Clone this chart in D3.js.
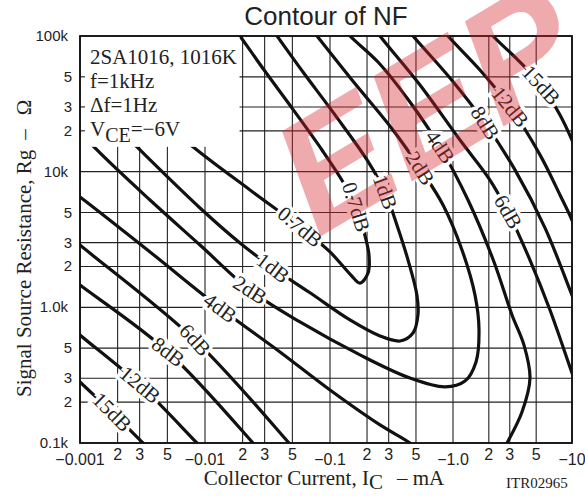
<!DOCTYPE html>
<html>
<head>
<meta charset="utf-8">
<script src="https://cdn.jsdelivr.net/npm/d3@7"></script>
<style>
  body { margin: 0; background: #fff; }
  .serif { font-family: "Liberation Serif", "Times New Roman", serif; }
  .sans { font-family: "Liberation Sans", Arial, sans-serif; }
</style>
</head>
<body>
<div id="wrapper"></div>
<script>
// axis decades and labels
const xDecades = [0.001, 0.01, 0.1, 1, 10]
const xDecadeLabels = ["−0.001", "−0.01", "−0.1", "−1.0", "−10"]
const yDecades = [100, 1000, 10000, 100000]
const yDecadeLabels = ["0.1k", "1.0k", "10k", "100k"]
const minorSteps = [2, 3, 5]

// NF contour arms: [collector current (mA, magnitude), source resistance (ohm)]
const arm07 = [[0.00363, 28500], [0.00863, 14450], [0.0229, 7330], [0.0575, 3910], [0.1, 2560],
  [0.1454, 1760], [0.1754, 1510], [0.2037, 1790], [0.2075, 2430], [0.189, 3590], [0.1627, 5490],
  [0.1276, 8390], [0.0863, 14450], [0.0497, 29400], [0.0297, 56100], [0.01905, 100000], [0.01585, 127000]]
const arm1 = [[0.001445, 28500], [0.00302, 14450], [0.00912, 5400], [0.01905, 2980], [0.035, 1950],
  [0.0692, 1280], [0.1454, 807], [0.255, 615], [0.371, 565], [0.473, 647], [0.519, 879], [0.509, 1230],
  [0.431, 2230], [0.35, 4050], [0.28, 7080], [0.2, 12200], [0.1098, 26200], [0.0608, 54300],
  [0.0377, 100000], [0.0313, 127000]]
const arm2 = [[0.000692, 28500], [0.001368, 14450], [0.00363, 6180], [0.00912, 2880], [0.0229, 1340],
  [0.0575, 780], [0.1754, 446], [0.4467, 301], [0.861, 259], [1.261, 286], [1.561, 396], [1.654, 681],
  [1.531, 1230], [1.19, 2650], [0.83, 5680], [0.539, 10600], [0.325, 20300], [0.151, 47400],
  [0.0787, 100000], [0.0643, 127000]]
const arm4Low = [[0.000832, 7330], [0.001, 6500], [0.00363, 2560], [0.01318, 989], [0.0398, 469],
  [0.1, 246], [0.255, 136], [0.4467, 100], [0.539, 85.9]]
const arm4High = [[2.483, 81.7], [2.844, 100], [3.8, 169], [4.436, 301], [3.951, 527], [3.132, 879],
  [2.211, 2160], [1.337, 6180], [0.784, 15200], [0.4467, 32600], [0.2455, 64300], [0.1454, 100000],
  [0.1161, 127000]]
const arm6Low = [[0.000832, 3360], [0.001, 2880], [0.00832, 574], [0.047, 100], [0.0535, 87.4]]
const arm6High = [[0.2115, 127000], [0.255, 100000], [0.539, 43500], [1.145, 17100], [2.046, 8680],
  [2.897, 5050], [4.436, 2230], [6.53, 955], [10, 328], [11.23, 246]]
const arm8Low = [[0.000832, 1670], [0.001, 1460], [0.00506, 469], [0.0242, 100], [0.0275, 87.4]]
const arm8High = [[0.4072, 119000], [0.473, 100000], [0.9454, 49000], [1.857, 22800], [3.319, 10300],
  [5.93, 3850], [10, 1230], [11.23, 955]]
const arm12Low = [[0.000832, 729], [0.001, 625], [0.00302, 268], [0.00863, 100], [0.01, 87.4]]
const arm12High = [[0.784, 119000], [0.9106, 100000], [1.686, 56100], [3.013, 30000], [5.385, 13300],
  [7.93, 6730], [10, 4400], [11.23, 3410]]
const arm15Low = [[0.000832, 334], [0.001, 282], [0.0018, 169], [0.00319, 100], [0.00363, 88.8]]
const arm15High = [[1.857, 119000], [2.168, 100000], [3.517, 66500], [5.49, 43500], [7.93, 26200],
  [10, 17100], [11.23, 13300]]

const arms = [arm07, arm1, arm2, arm4Low, arm4High, arm6Low, arm6High,
  arm8Low, arm8High, arm12Low, arm12High, arm15Low, arm15High]

// contour labels: text, arm, anchor [mA, ohm]
const curveLabels = [
  ["0.7dB", arm07, 0.0575, 3910], ["1dB", arm1, 0.035, 1950], ["2dB", arm2, 0.0229, 1340],
  ["4dB", arm4Low, 0.0132, 989], ["6dB", arm6Low, 0.00832, 574], ["8dB", arm8Low, 0.00506, 469],
  ["12dB", arm12Low, 0.00302, 268], ["15dB", arm15Low, 0.0018, 169],
  ["0.7dB", arm07, 0.1627, 5490], ["1dB", arm1, 0.28, 7080], ["2dB", arm2, 0.539, 10600],
  ["4dB", arm4High, 0.784, 15200], ["6dB", arm6High, 2.897, 5050], ["8dB", arm8High, 1.857, 22800],
  ["12dB", arm12High, 3.013, 30000], ["15dB", arm15High, 5.49, 43500],
]

const conditionLines = ["2SA1016, 1016K", "f=1kHz", "Δf=1Hz"]

// dimensions
const dimensions = {
  width: 585,
  height: 498,
  margin: { top: 36, right: 13, bottom: 55, left: 80 },
}
dimensions.boundedWidth = dimensions.width - dimensions.margin.left - dimensions.margin.right
dimensions.boundedHeight = dimensions.height - dimensions.margin.top - dimensions.margin.bottom

// scales (decades in the scan are not quite even, so a piecewise log scale)
const xScale = d3.scaleLog()
  .domain(xDecades)
  .range([0, 125, 250, 373, dimensions.boundedWidth])
const yScale = d3.scaleLog()
  .domain([100, 100000])
  .range([dimensions.boundedHeight, 0])

const wrapper = d3.select("#wrapper")
  .append("svg")
    .attr("width", dimensions.width)
    .attr("height", dimensions.height)
    .style("background", "#fff")

const bounds = wrapper.append("g")
  .attr("transform", `translate(${dimensions.margin.left},${dimensions.margin.top})`)

wrapper.append("defs").append("clipPath")
    .attr("id", "plot-clip")
  .append("rect")
    .attr("width", dimensions.boundedWidth)
    .attr("height", dimensions.boundedHeight)

// grid
const xGrid = xDecades.flatMap((d, i) => i < xDecades.length - 1 ? [d, ...minorSteps.map(m => d * m)] : [d])
const yGrid = yDecades.flatMap((d, i) => i < yDecades.length - 1 ? [d, ...minorSteps.map(m => d * m)] : [d])

bounds.append("g").selectAll("line").data(xGrid).join("line")
    .attr("x1", d => xScale(d)).attr("x2", d => xScale(d))
    .attr("y1", 0).attr("y2", dimensions.boundedHeight)
    .attr("stroke", "#222").attr("stroke-width", 1.1)
bounds.append("g").selectAll("line").data(yGrid).join("line")
    .attr("y1", d => yScale(d)).attr("y2", d => yScale(d))
    .attr("x1", 0).attr("x2", dimensions.boundedWidth)
    .attr("stroke", "#222").attr("stroke-width", 1.1)

// contours
const lineGenerator = d3.line()
  .x(d => xScale(d[0]))
  .y(d => yScale(d[1]))
  .curve(d3.curveCatmullRom.alpha(0.5))

bounds.append("g")
    .attr("clip-path", "url(#plot-clip)")
  .selectAll("path").data(arms).join("path")
    .attr("d", lineGenerator)
    .attr("fill", "none")
    .attr("stroke", "#111")
    .attr("stroke-width", 3.2)
    .attr("stroke-linejoin", "round")

// conditions box
bounds.append("rect")
    .attr("x", 1).attr("y", 1)
    .attr("width", xScale(0.0189) - 1)
    .attr("height", yScale(15500))
    .attr("fill", "#fff")

// little ticks left inside the box
bounds.append("g").selectAll("line").data([20000, 30000, 50000]).join("line")
    .attr("x1", 0).attr("x2", 5)
    .attr("y1", d => yScale(d)).attr("y2", d => yScale(d))
    .attr("stroke", "#222").attr("stroke-width", 1.1)

const condText = bounds.append("g")
    .attr("class", "serif")
    .style("font-size", "21px")
    .attr("fill", "#222")
condText.selectAll("text").data(conditionLines).join("text")
    .attr("x", 10)
    .attr("y", (d, i) => 28 + i * 24)
    .text(d => d)
const vce = condText.append("text").attr("x", 10).attr("y", 28 + 3 * 24)
vce.append("tspan").text("V")
vce.append("tspan").attr("dy", 6).style("font-size", "20px").text("CE")
vce.append("tspan").attr("dy", -6).text("=−6V")

// frame
bounds.append("rect")
    .attr("width", dimensions.boundedWidth)
    .attr("height", dimensions.boundedHeight)
    .attr("fill", "none")
    .attr("stroke", "#111")
    .attr("stroke-width", 1.8)

// contour labels, turned along their curve
function labelAngle(arm, px, py) {
  const pts = arm.map(d => [xScale(d[0]), yScale(d[1])])
  let best = 0, bestDist = Infinity
  for (let i = 0; i < pts.length - 1; i++) {
    const mx = (pts[i][0] + pts[i + 1][0]) / 2, my = (pts[i][1] + pts[i + 1][1]) / 2
    const dist = (mx - px) ** 2 + (my - py) ** 2
    if (dist < bestDist) { bestDist = dist; best = i }
  }
  let dx = pts[best + 1][0] - pts[best][0], dy = pts[best + 1][1] - pts[best][1]
  if (dx < 0) { dx = -dx; dy = -dy }
  return Math.atan2(dy, dx) * 180 / Math.PI
}

bounds.append("g")
    .attr("class", "serif")
    .style("font-size", "21px")
  .selectAll("text").data(curveLabels).join("text")
    .attr("transform", d => {
      const px = xScale(d[2]), py = yScale(d[3])
      return `translate(${px},${py}) rotate(${labelAngle(d[1], px, py)})`
    })
    .attr("text-anchor", "middle")
    .attr("dy", "0.33em")
    .attr("fill", "#222")
    .attr("stroke", "#fff")
    .attr("stroke-width", 7)
    .attr("paint-order", "stroke")
    .text(d => d[0])

// watermark from the scanned sheet
wrapper.append("text")
    .attr("class", "sans")
    .attr("transform", "translate(318,238) rotate(-31)")
    .style("font-size", "160px")
    .style("font-weight", "bold")
    .style("font-style", "italic")
    .attr("fill", "rgb(215,35,45)")
    .attr("opacity", 0.38)
    .text("EEP")

// tick labels
const xTickGroup = bounds.append("g")
    .attr("class", "sans")
    .style("font-size", "16px")
    .attr("fill", "#222")
    .attr("text-anchor", "middle")
xTickGroup.selectAll(".major").data(xDecades).join("text")
    .attr("class", "major")
    .attr("x", d => xScale(d))
    .attr("y", dimensions.boundedHeight + 22)
    .text((d, i) => xDecadeLabels[i])
xTickGroup.selectAll(".minor").data(xGrid.filter(d => !xDecades.includes(d))).join("text")
    .attr("class", "minor")
    .attr("x", d => xScale(d))
    .attr("y", dimensions.boundedHeight + 17)
    .text(d => Math.round(d / Math.pow(10, Math.floor(Math.log10(d) + 1e-9))))

const yTickGroup = bounds.append("g")
    .attr("class", "sans")
    .style("font-size", "15px")
    .attr("fill", "#222")
    .attr("text-anchor", "end")
yTickGroup.selectAll(".major").data(yDecades).join("text")
    .attr("class", "major")
    .attr("x", -12)
    .attr("y", d => yScale(d) + 5)
    .text((d, i) => yDecadeLabels[i])
yTickGroup.selectAll(".minor").data(yGrid.filter(d => !yDecades.includes(d))).join("text")
    .attr("class", "minor")
    .attr("x", -8)
    .attr("y", d => yScale(d) + 5)
    .text(d => Math.round(d / Math.pow(10, Math.floor(Math.log10(d) + 1e-9))))

// titles
wrapper.append("text")
    .attr("class", "sans")
    .attr("x", 326).attr("y", 25)
    .attr("text-anchor", "middle")
    .style("font-size", "26px")
    .attr("fill", "#222")
    .text("Contour of NF")
wrapper.append("text")
    .attr("class", "sans")
    .attr("x", 326).attr("y", 517)
    .attr("text-anchor", "middle")
    .style("font-size", "26px")
    .attr("fill", "#222")
    .text("Contour of NF")

const xLabel = wrapper.append("text")
    .attr("class", "serif")
    .attr("x", 324).attr("y", 485)
    .attr("text-anchor", "middle")
    .style("font-size", "21px")
    .attr("fill", "#222")
xLabel.append("tspan").text("Collector Current, I")
xLabel.append("tspan").attr("dy", 4).text("C")
xLabel.append("tspan").attr("dy", -4).attr("dx", 14).text("– mA")

wrapper.append("text")
    .attr("class", "serif")
    .attr("x", 506).attr("y", 488)
    .style("font-size", "15px")
    .attr("fill", "#222")
    .text("ITR02965")

const yLabel = wrapper.append("text")
    .attr("class", "serif")
    .attr("transform", "translate(31,397) rotate(-90)")
    .style("font-size", "21px")
    .attr("fill", "#222")
yLabel.append("tspan").text("Signal Source Resistance, Rg")
yLabel.append("tspan").attr("dx", 10).text("–")
yLabel.append("tspan").attr("dx", 14).text("Ω")
</script>
</body>
</html>
